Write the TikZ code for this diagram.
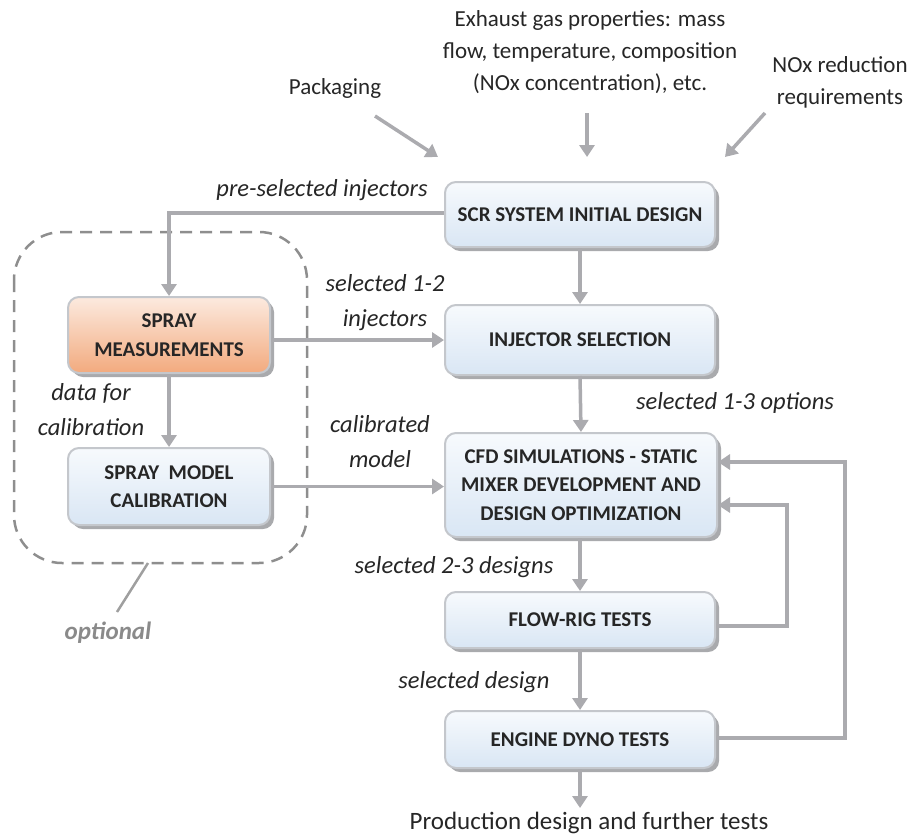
\documentclass[tikz,border=0pt]{standalone}
\usepackage{fontspec}
\setmainfont{Carlito}
\usetikzlibrary{arrows.meta,shadows,positioning}
\definecolor{boxborder}{HTML}{C4C7CC}
\definecolor{boxtop}{HTML}{F7FAFD}
\definecolor{boxbot}{HTML}{D9E6F4}
\definecolor{ortop}{HTML}{FCEADF}
\definecolor{orbot}{HTML}{F2AA7E}
\definecolor{shadowc}{HTML}{A9AAAD}
\definecolor{arrowc}{HTML}{ABABAF}
\definecolor{dashc}{HTML}{8E8E8E}
\definecolor{textc}{HTML}{262626}
\definecolor{optc}{HTML}{8A8A8A}
\tikzset{
  boxnode/.style={rounded corners=11pt, draw=boxborder, line width=2pt,
    top color=boxtop, bottom color=boxbot, minimum width=270pt, inner sep=0pt,
    font=\bfseries\fontsize{21}{28.5}\selectfont, text=textc, align=center,
    drop shadow={shadow xshift=4pt, shadow yshift=-4pt, fill=shadowc, opacity=1}},
  orangenode/.style={boxnode, top color=ortop, bottom color=orbot},
  conn/.style={draw=arrowc, line width=3.5pt},
  arr/.style={conn, -{Triangle[length=12pt,width=15pt]}},
  lbl/.style={font=\itshape\fontsize{24.5}{35}\selectfont, text=textc, align=center, inner sep=0pt},
  plain/.style={font=\fontsize{23}{32}\selectfont, text=textc, align=center, inner sep=0pt},
}
\begin{document}
\begin{tikzpicture}[x=1pt,y=-1pt]
\useasboundingbox (0,0) rectangle (920,835);

% dashed optional region
\draw[dashc, line width=2.5pt, dash pattern=on 12pt off 8pt, rounded corners=48pt] (14,232) rectangle (307,563);
\coordinate (o1) at (148,563);
\coordinate (o2) at (117,612);
\draw[dashc!85, line width=2.5pt] (o1) -- (o2);
\node[font=\bfseries\itshape\fontsize{25}{28}\selectfont, text=optc, inner sep=0pt] (opt) at (108,633) {optional};

% boxes
\node[boxnode, minimum height=65pt] (scr) at (580,214.5) {SCR SYSTEM INITIAL DESIGN};
\node[boxnode, minimum height=70pt] (inj) at (580,340) {INJECTOR SELECTION};
\node[boxnode, minimum width=272pt, minimum height=104pt] (cfd) at (581,485) {CFD SIMULATIONS - STATIC\\MIXER DEVELOPMENT AND\\DESIGN OPTIMIZATION};
\node[boxnode, minimum height=56pt] (flow) at (580,620) {FLOW-RIG TESTS};
\node[boxnode, minimum height=57pt] (dyno) at (580,739.5) {ENGINE DYNO TESTS};
\node[orangenode, minimum width=202pt, minimum height=76pt] (spray) at (169,335) {SPRAY\\MEASUREMENTS};
\node[boxnode, minimum width=202pt, minimum height=77pt] (cal) at (169,486.5) {SPRAY\ \ MODEL\\CALIBRATION};

% top inputs
\node[plain] (pack) at (335,88) {Packaging};
\node[plain] (exh) at (590,52) {Exhaust gas properties: mass\\flow, temperature, composition\\(NOx concentration), etc.};
\node[plain] (nox) at (840,82) {NOx reduction\\requirements};
\coordinate (pa1) at (375,116);
\coordinate (pa2) at (438,157);
\coordinate (ea1) at (587,113);
\coordinate (ea2) at (587,157);
\coordinate (na1) at (765,113);
\coordinate (na2) at (725,157);
\draw[arr] (pa1) -- (pa2);
\draw[arr] (ea1) -- (ea2);
\draw[arr] (na1) -- (na2);

% main connectors
\coordinate (c1) at (169,213);
\draw[arr] (scr.west |- c1) -- (c1) -- (spray.north);
\draw[arr] (scr.south) -- (inj.north);
\draw[arr] (spray.east |- inj.west) -- (inj.west);
\draw[arr] (spray.south) -- (cal.north);
\draw[arr] (inj.south) -- (cfd.north);
\draw[arr] (cal.east) -- (cal.east -| cfd.west);
\draw[arr] (cfd.south -| flow.north) -- (flow.north);
\draw[arr] (flow.south) -- (dyno.north);
\coordinate (out) at (580,808);
\draw[arr] (dyno.south) -- (out);

% feedback loops
\coordinate (f1) at (787,626);
\coordinate (f2) at (787,505);
\draw[arr] (flow.east |- f1) -- (f1) -- (f2) -- (cfd.east |- f2);
\coordinate (g1) at (845,738);
\coordinate (g2) at (845,462);
\draw[arr] (dyno.east |- g1) -- (g1) -- (g2) -- (cfd.east |- g2);

% labels
\node[lbl] (l1) at (322,190) {pre-selected injectors};
\node[lbl] (l2) at (385,303) {selected 1-2\\injectors};
\node[lbl] (l3) at (91,410) {data for\\calibration};
\node[lbl] (l4) at (380,442) {calibrated\\model};
\node[lbl] (l5) at (735,403) {selected 1-3 options};
\node[lbl] (l6) at (454,567) {selected 2-3 designs};
\node[lbl] (l7) at (474,682) {selected design};
\node[font=\fontsize{25}{30}\selectfont, text=textc, inner sep=0pt] (prod) at (589,823) {Production design and further tests};
\end{tikzpicture}
\end{document}
